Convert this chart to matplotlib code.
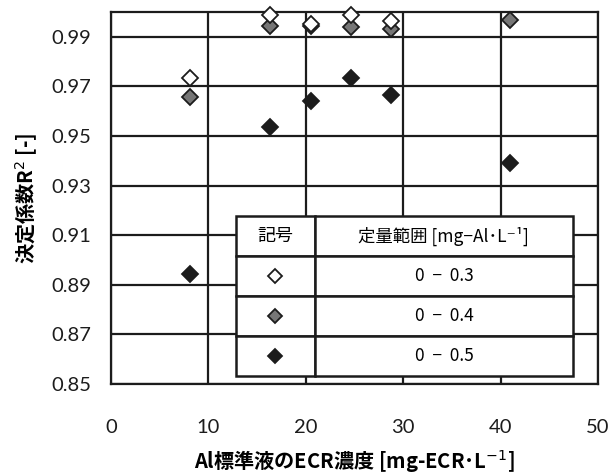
import matplotlib
matplotlib.use('Agg')
import matplotlib.pyplot as plt

plt.rcParams['font.family'] = ['Lato', 'Noto Sans CJK JP', 'DejaVu Sans']

# data
x_03 = [8.1, 16.3, 20.5, 24.6, 28.7]
r2_03 = [0.9735, 0.9989, 0.9952, 0.9989, 0.9965]
x_04 = [8.1, 16.3, 20.5, 24.6, 28.7, 41.0]
r2_04 = [0.9657, 0.9942, 0.9944, 0.9939, 0.9931, 0.9969]
x_05 = [8.1, 16.3, 20.5, 24.6, 28.7, 41.0]
r2_05 = [0.8943, 0.9536, 0.9643, 0.9733, 0.9664, 0.9390]

ranges = ['0  −  0.3', '0  −  0.4', '0  −  0.5']
face = ['white', '#767676', '#1c1c1c']

fig = plt.figure(figsize=(6.15, 4.73), dpi=100)
ax = fig.add_axes([0.1805, 0.188, 0.7919, 0.7866])

ms = 7.8
ax.plot(x_03, r2_03, 'D', ms=ms, mfc=face[0], mec='#1c1c1c', mew=1.3, zorder=4, clip_on=False)
ax.plot(x_04, r2_04, 'D', ms=ms, mfc=face[1], mec='#1c1c1c', mew=1.3, zorder=3, clip_on=False)
ax.plot(x_05, r2_05, 'D', ms=ms, mfc=face[2], mec='#1c1c1c', mew=1.3, zorder=3, clip_on=False)

ax.set_xlim(0, 50)
ax.set_ylim(0.85, 1.0)
ax.set_xticks(range(0, 51, 10))
ax.set_yticks([0.85, 0.87, 0.89, 0.91, 0.93, 0.95, 0.97, 0.99])
ax.set_yticklabels(['0.85', '0.87', '0.89', '0.91', '0.93', '0.95', '0.97', '0.99'])
ax.grid(True, color='#1c1c1c', lw=1.6)
ax.set_axisbelow(True)
for s in ax.spines.values():
    s.set_linewidth(1.6)
    s.set_color('#1c1c1c')
ax.tick_params(length=0, labelsize=14.5, colors='#1c1c1c')
ax.tick_params(axis='y', pad=14)
ax.tick_params(axis='x', pad=25)

ax.set_ylabel('決定係数R$^2$ [-]', fontsize=14.5, fontweight='bold', labelpad=9,
              family=['Noto Sans CJK JP', 'DejaVu Sans'])
ax.set_xlabel('Al標準液のECR濃度 [mg-ECR･L$^{-1}$]', fontsize=14.5, fontweight='bold',
              labelpad=9, family=['Noto Sans CJK JP', 'DejaVu Sans'])

# table legend
cells = [['記号', '定量範囲 [mg−Al･L⁻¹]']] + [['', r] for r in ranges]
tb = ax.table(cellText=cells, cellLoc='center', colWidths=[0.163, 0.530],
              bbox=[0.2557, 0.0215, 0.6928, 0.4301], zorder=5)
tb.auto_set_font_size(False)
for (r, c), cell in tb.get_celld().items():
    cell.set_linewidth(1.8)
    cell.set_edgecolor('#1c1c1c')
    cell.set_facecolor('white')
    cell.get_text().set_fontsize(12.5)
    cell.get_text().set_family(['Noto Sans CJK JP', 'DejaVu Sans'])
tb.get_celld()[(0, 0)].get_text().set_fontsize(13)

rowh = 0.4301 / 4
for i in range(3):
    yc = 0.0215 + 0.4301 - rowh * (i + 1.5)
    ax.plot(0.2557 + 0.163 / 2, yc, 'D', ms=7.5, mfc=face[i], mec='#1c1c1c', mew=1.3,
            transform=ax.transAxes, zorder=6, clip_on=False)

fig.savefig('out.png', dpi=100)
